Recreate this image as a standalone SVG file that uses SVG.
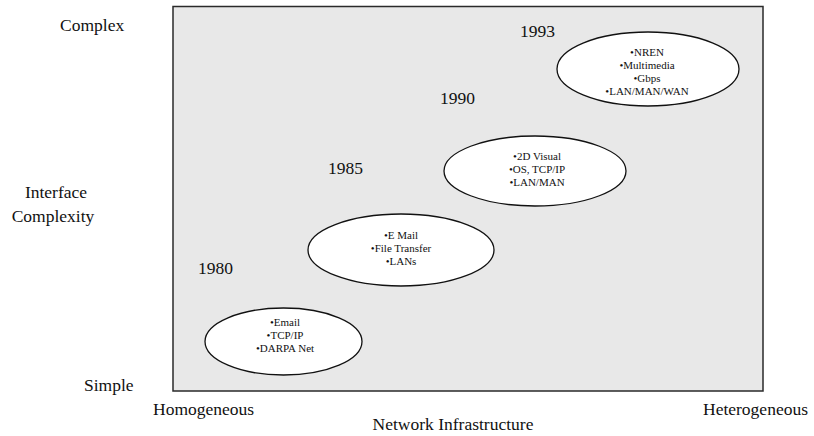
<svg xmlns="http://www.w3.org/2000/svg" width="814" height="436" viewBox="0 0 814 436">
  <style>
    .axis { font-family: "Liberation Serif", "Times New Roman", serif; font-size: 17.5px; fill: #111; }
    .year { font-family: "Liberation Serif", "Times New Roman", serif; font-size: 17.5px; fill: #111; }
    .item { font-family: "Liberation Serif", "Times New Roman", serif; font-size: 11px; fill: #111; text-anchor: middle; }
    .bubble { fill: #ffffff; stroke: #111; stroke-width: 1.3; }
    .shade { fill: none; stroke: #111; stroke-width: 1.2; }
  </style>

  <!-- plot area -->
  <rect x="173" y="6.5" width="590" height="384.5" fill="#e8e8e8" stroke="#2a2a2a" stroke-width="1.5"/>

  <!-- axis labels -->
  <text class="axis" x="60" y="31">Complex</text>
  <text class="axis" x="56" y="198" text-anchor="middle">Interface</text>
  <text class="axis" x="53" y="222" text-anchor="middle">Complexity</text>
  <text class="axis" x="84" y="391">Simple</text>
  <text class="axis" x="153" y="415">Homogeneous</text>
  <text class="axis" x="453" y="430" text-anchor="middle">Network Infrastructure</text>
  <text class="axis" x="703" y="415">Heterogeneous</text>

  <!-- era labels -->
  <text class="year" x="198" y="274">1980</text>
  <text class="year" x="328" y="174">1985</text>
  <text class="year" x="440" y="104">1990</text>
  <text class="year" x="520" y="37">1993</text>

  <g id="connectors"></g>

  <g id="era-1980">
    <ellipse class="bubble" cx="283.5" cy="341.5" rx="78.5" ry="33.5"/>
    <text class="item" x="285" y="326">•Email</text>
    <text class="item" x="285" y="339">•TCP/IP</text>
    <text class="item" x="285" y="352">•DARPA Net</text>
  </g>

  <g id="era-1985">
    <ellipse class="bubble" cx="401" cy="250" rx="93" ry="36"/>
    <text class="item" x="401" y="239">•E Mail</text>
    <text class="item" x="401" y="252">•File Transfer</text>
    <text class="item" x="401" y="265">•LANs</text>
  </g>

  <g id="era-1990">
    <ellipse class="bubble" cx="535" cy="171" rx="91" ry="35"/>
    <text class="item" x="537" y="160">•2D Visual</text>
    <text class="item" x="537" y="173">•OS, TCP/IP</text>
    <text class="item" x="537" y="186">•LAN/MAN</text>
  </g>

  <g id="era-1993">
    <ellipse class="bubble" cx="648" cy="69" rx="91" ry="37"/>
    <text class="item" x="647" y="56">•NREN</text>
    <text class="item" x="647" y="69">•Multimedia</text>
    <text class="item" x="647" y="82">•Gbps</text>
    <text class="item" x="647" y="95">•LAN/MAN/WAN</text>
  </g>
</svg>
